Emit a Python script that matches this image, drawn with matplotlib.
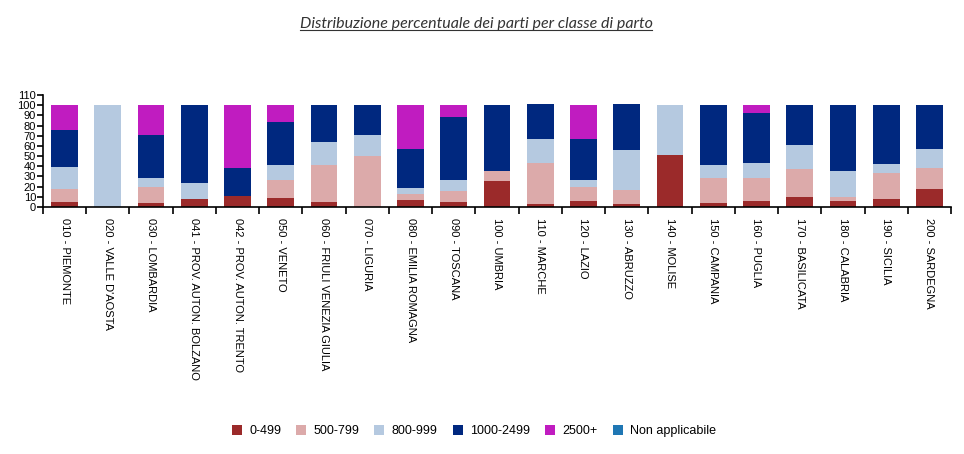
import numpy as np
import matplotlib
matplotlib.use('Agg')
import matplotlib.pyplot as plt
from matplotlib.lines import Line2D
from matplotlib.patches import Patch

regioni = ['010 - PIEMONTE', "020 - VALLE D'AOSTA", '030 - LOMBARDIA',
           '041 - PROV. AUTON. BOLZANO', '042 - PROV. AUTON. TRENTO', '050 - VENETO',
           '060 - FRIULI VENEZIA GIULIA', '070 - LIGURIA', '080 - EMILIA ROMAGNA',
           '090 - TOSCANA', '100 - UMBRIA', '110 - MARCHE', '120 - LAZIO',
           '130 - ABRUZZO', '140 - MOLISE', '150 - CAMPANIA', '160 - PUGLIA',
           '170 - BASILICATA', '180 - CALABRIA', '190 - SICILIA', '200 - SARDEGNA']

classi = ['0-499', '500-799', '800-999', '1000-2499', '2500+', 'Non applicabile']

# percentuali
p_0_499     = [5.0, 0.0, 3.9, 7.5, 10.5, 9.0, 5.0, 0.0, 7.0, 5.0, 25.6, 2.6, 5.6, 2.6, 50.8, 3.6, 5.6, 9.5, 5.6, 7.5, 17.4]
p_500_799   = [13.0, 0.0, 16.1, 0.0, 0.0, 17.3, 36.4, 50.0, 5.6, 10.5, 9.5, 40.4, 13.7, 13.8, 0.0, 24.6, 22.6, 27.5, 3.9, 25.6, 21.3]
p_800_999   = [21.0, 100.0, 8.2, 15.8, 0.0, 14.8, 22.7, 20.5, 5.9, 11.2, 0.0, 23.6, 6.9, 39.3, 49.2, 12.8, 14.8, 23.7, 25.6, 8.9, 18.0]
p_1000_2499 = [37.0, 0.0, 42.3, 76.7, 27.5, 42.3, 36.0, 29.5, 38.3, 61.6, 64.9, 34.4, 40.4, 45.3, 0.0, 59.0, 49.1, 39.3, 64.9, 58.0, 43.3]
p_2500      = [24.0, 0.0, 29.5, 0.0, 62.0, 16.7, 0.0, 0.0, 43.3, 11.8, 0.0, 0.0, 33.4, 0.0, 0.0, 0.0, 7.9, 0.0, 0.0, 0.0, 0.0]
p_non_appl  = [0.0] * 21

colori = ['#9b2a2a', '#dcaaaa', '#b5c9e0', '#00287f', '#c01cc0', '#1f77b4']

serie = [p_0_499, p_500_799, p_800_999, p_1000_2499, p_2500, p_non_appl]

fig = plt.figure(figsize=(9.64, 4.54), dpi=100)
ax = fig.add_axes([43/964, 1 - 207/454, (951-43)/964, (207-95)/454])

x = np.arange(len(regioni))
base = np.zeros(len(regioni))
for vals, col in zip(serie, colori):
    ax.bar(x, vals, width=0.62, bottom=base, color=col, linewidth=0)
    base = base + np.array(vals)

ax.set_xlim(-0.5, len(regioni) - 0.5)
ax.set_ylim(0, 110)
ax.set_yticks(np.arange(0, 111, 10))
ax.tick_params(axis='y', labelsize=8, length=4, width=1.2, pad=1)
for lab in ax.get_yticklabels():
    lab.set_family('Liberation Sans')

# ticks on the x axis sit between the categories
ax.set_xticks(np.arange(-0.5, len(regioni), 1.0))
ax.set_xticklabels([])
ax.tick_params(axis='x', length=5, width=1.2)
ax.set_xticks(x, minor=True)
ax.set_xticklabels(regioni, minor=True, rotation=-90, fontsize=8,
                   family='Liberation Sans', va='top', ha='center')
ax.tick_params(axis='x', which='minor', length=0, pad=8)

for s in ['top', 'right']:
    ax.spines[s].set_visible(False)
ax.spines['left'].set_linewidth(1.2)
ax.spines['bottom'].set_linewidth(1.2)

# titolo sottolineato
t = fig.text(476/964, 1 - 24/454, 'Distribuzione percentuale dei parti per classe di parto',
             ha='center', va='center', fontsize=11.5, style='italic',
             family='Lato', color='#333333')
fig.canvas.draw()
bb = t.get_window_extent().transformed(fig.transFigure.inverted())
fig.lines.append(Line2D([bb.x0, bb.x1], [bb.y0 + 0.002, bb.y0 + 0.002],
                        transform=fig.transFigure, color='#333333', linewidth=0.8))

handles = [Patch(facecolor=c, edgecolor='none') for c in colori]
fig.legend(handles, classi, loc='center', bbox_to_anchor=(474/964, 1 - 431/454),
           ncol=6, frameon=False, handlelength=0.8, handleheight=0.8,
           handletextpad=0.6, columnspacing=1.2, prop={'family': 'Liberation Sans', 'size': 9})

fig.savefig('out.png', dpi=100)
